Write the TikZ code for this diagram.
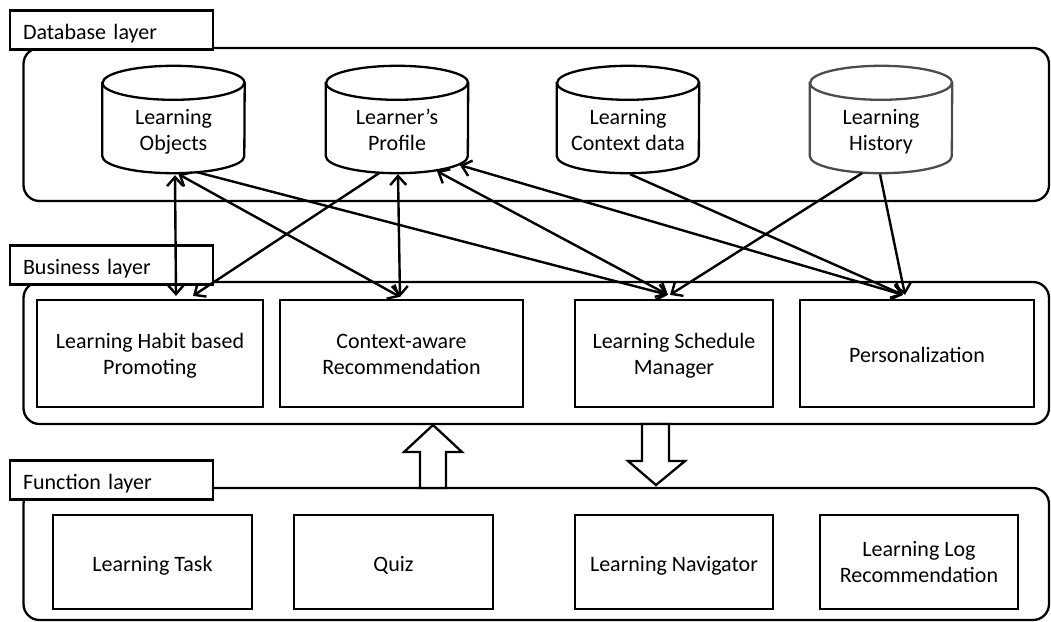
\documentclass[tikz,border=0pt]{standalone}
\usepackage{fontspec}
\setmainfont{Carlito}
\usetikzlibrary{arrows.meta,calc}

\tikzset{
  stroke/.style={line width=2.3pt},
  panel/.style={stroke, rounded corners=16pt},
  oneline/.style={text height=20pt, text depth=2pt},
  twolines/.style={text height=43pt, text depth=2pt},
  tag/.style={stroke, draw, fill=white, minimum width=203pt, minimum height=39pt,
    inner xsep=13pt, inner ysep=0pt, text width=177pt, align=left, oneline},
  unit/.style={stroke, draw, fill=white, align=center, inner sep=0pt},
  drum/.style={minimum width=142pt, minimum height=107pt, inner sep=0pt},
  caption/.style={align=center, inner sep=0pt, twolines},
  tip/.tip={Straight Barb[length=9pt,width=16pt]},
  link/.style={line width=2.4pt, -tip},
  twoway/.style={line width=2.4pt, tip-tip},
  hollow/.style={stroke, fill=white, line join=miter},
}

% storage drum drawn around a named node: #1 node name, #2 colour
\newcommand\drumoutline[2]{%
  \draw[stroke, draw=#2, fill=white]
    ([yshift=-17pt]#1.north west) -- ([yshift=17pt]#1.south west)
    arc[start angle=180, end angle=360, x radius=71pt, y radius=17pt]
    -- ([yshift=-17pt]#1.north east)
    arc[start angle=0, end angle=180, x radius=71pt, y radius=17pt] -- cycle;
  \draw[stroke, draw=#2]
    ([yshift=-17pt]#1.north west)
    arc[start angle=180, end angle=360, x radius=71pt, y radius=17pt];
}

\begin{document}
\begin{tikzpicture}[x=1pt, y=-1pt, font=\fontsize{22}{26}\selectfont]
\useasboundingbox (0,0) rectangle (1051,621);

% layer panels
\draw[panel] (23.5,48) rectangle (1049,201);
\draw[panel] (23.5,282) rectangle (1049,424);
\draw[panel] (23.5,488) rectangle (1049,620);

% layer tags
\node[tag] (dbtag)  at (111.5,30)  {Database layer};
\node[tag] (bztag)  at (111.5,265) {Business layer};
\node[tag] (fntag)  at (111.5,480) {Function layer};

% database layer: storage drums
\node[drum] (lo)  at (173.5,119.5) {};
\node[drum] (lp)  at (397,119.5)   {};
\node[drum] (lcd) at (628,119.5)   {};
\node[drum] (lh)  at (881,119.5)   {};
\drumoutline{lo}{black}
\drumoutline{lp}{black}
\drumoutline{lcd}{black}
\drumoutline{lh}{black!70}
\node[caption] (lo-t)  at ($(lo.center)+(0,10)$)  {Learning\\Objects};
\node[caption] (lp-t)  at ($(lp.center)+(0,10)$)  {Learner’s\\Profile};
\node[caption] (lcd-t) at ($(lcd.center)+(0,10)$) {Learning\\Context data};
\node[caption] (lh-t)  at ($(lh.center)+(0,10)$)  {Learning\\History};

% business layer
\node[unit, twolines, minimum width=226pt, minimum height=107pt] (lhbp) at (150,353.5) {Learning Habit based\\Promoting};
\node[unit, twolines, minimum width=243pt, minimum height=107pt] (car)  at (401.5,353.5) {Context-aware\\Recommendation};
\node[unit, twolines, minimum width=198pt, minimum height=107pt] (lsm)  at (674,353.5) {Learning Schedule\\Manager};
\node[unit, oneline,  minimum width=234pt, minimum height=107pt] (pers) at (917,353.5) {Personalization};

% function layer
\node[unit, oneline,  minimum width=199pt, minimum height=94pt] (lt)   at (152.5,562) {Learning Task};
\node[unit, oneline,  minimum width=199pt, minimum height=94pt] (quiz) at (393.5,562) {Quiz};
\node[unit, oneline,  minimum width=198pt, minimum height=94pt] (ln)   at (674,562)   {Learning Navigator};
\node[unit, twolines, minimum width=198pt, minimum height=94pt] (llr)  at (919,562)   {Learning Log\\Recommendation};

% block arrows between business and function layers
\draw[hollow] (420,488) -- (420,452) -- (404,452) -- (433,425) -- (462,452)
  -- (446,452) -- (446,488) -- cycle;
\draw[hollow] (642,424) -- (642,461) -- (628,461) -- (656,485) -- (685,461)
  -- (669,461) -- (669,424) -- cycle;

% data flows
\draw[twoway] ($(lo.south)+(1.5,2)$) -- ($(lhbp.north)+(26,-3)$);
\draw[twoway] ($(lo.south)+(5,1)$)   -- ($(car.north)+(-1.5,-2)$);
\draw[link]   ($(lo.south)+(23.5,-1)$) -- ($(lsm.north)+(-6,-4)$);
\draw[link]   ($(lp.south)+(-18,0)$) -- ($(lhbp.north)+(43,-3)$);
\draw[twoway] ($(lp.south)+(1,1)$)   -- ($(car.north)+(-1.5,-2)$);
\draw[twoway] ($(lp.south)+(40,-2)$) -- ($(lsm.north)+(-6,-4)$);
\draw[twoway] ($(lp.south)+(63,-8)$) -- ($(pers.north)+(-14,-4)$);
\draw[link]   ($(lcd.south)+(2,1)$)  -- ($(pers.north)+(-14,-4)$);
\draw[link]   ($(lh.south)+(-19,0)$) -- ($(lsm.north)+(-4,-4)$);
\draw[link]   ($(lh.south)+(-1,1)$)  -- ($(pers.north)+(-12,-4)$);
\end{tikzpicture}
\end{document}
